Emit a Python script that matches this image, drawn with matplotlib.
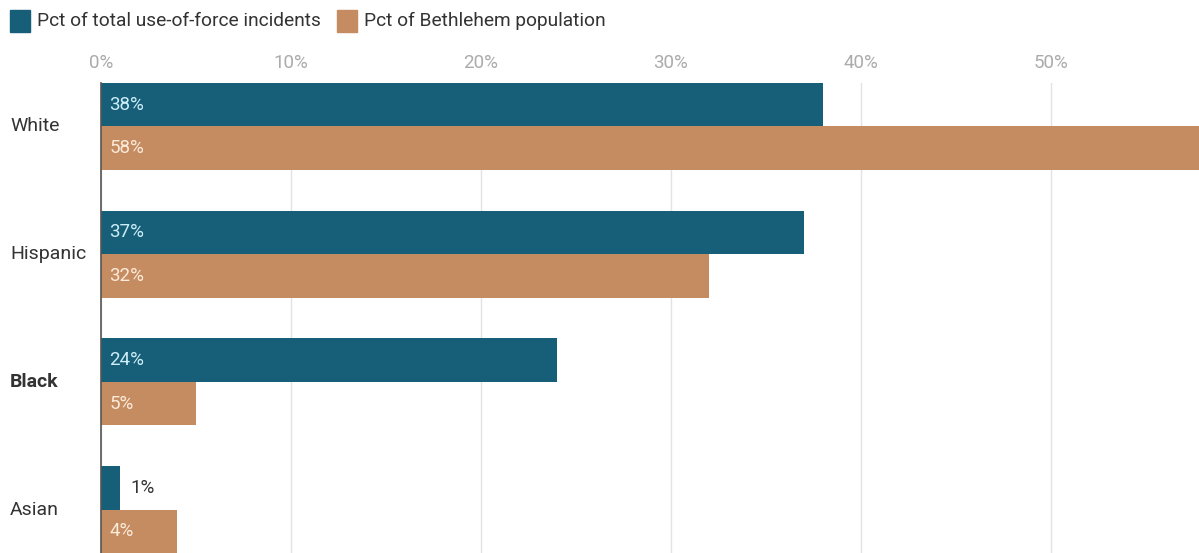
import matplotlib.pyplot as plt
import numpy as np

plt.rcParams['font.family'] = ['Roboto', 'DejaVu Sans']

groups = ["White", "Hispanic", "Black", "Asian"]
incidents = [38, 37, 24, 1]
population = [58, 32, 5, 4]
series_names = ["Pct of total use-of-force incidents", "Pct of Bethlehem population"]

blue = "#175f78"
orange = "#c58b61"

fig = plt.figure(figsize=(11.99, 5.53), dpi=100)
ax = fig.add_axes([101 / 1199, 0, 1 - 101 / 1199, 470 / 553])

y = np.arange(len(groups))
h = 0.34
ax.barh(y - h / 2, incidents, height=h, color=blue, zorder=3)
ax.barh(y + h / 2, population, height=h, color=orange, zorder=3)

ax.set_xlim(0, 57.8)
ax.set_ylim(3 + h, -h)

# value labels
for i, v in enumerate(incidents):
    if v >= 3:
        ax.text(0.45, y[i] - h / 2, f"{v}%", color="#cdeef7", fontsize=13.5,
                va="center", ha="left", zorder=4)
    else:
        ax.text(v + 0.55, y[i] - h / 2, f"{v}%", color="#333333", fontsize=13.5,
                va="center", ha="left", zorder=4)
for i, v in enumerate(population):
    ax.text(0.45, y[i] + h / 2, f"{v}%", color="#fcebd9", fontsize=13.5,
            va="center", ha="left", zorder=4)

ax.set_xticks(np.arange(0, 60, 10))
ax.set_xticklabels([f"{t}%" for t in range(0, 60, 10)])
ax.xaxis.tick_top()
ax.tick_params(axis="x", length=0, pad=8, labelsize=13.5, labelcolor="#ababab")
ax.set_yticks([])
ax.grid(axis="x", color="#e3e3e3", linewidth=1, zorder=0)

for s in ["top", "right", "bottom"]:
    ax.spines[s].set_visible(False)
ax.spines["left"].set_color("#555555")
ax.spines["left"].set_linewidth(1.2)
ax.spines["left"].set_zorder(5)

# category labels
for i, g in enumerate(groups):
    ax.text(-91 / 19, y[i], g, fontsize=14, color="#333333", va="center", ha="left",
            fontweight="bold" if g == "Black" else "normal")

# legend
fig.patches.append(plt.Rectangle((10 / 1199, 1 - 32 / 553), 20 / 1199, 22 / 553,
                                 transform=fig.transFigure, color=blue))
fig.text(37 / 1199, 1 - 21 / 553, series_names[0], fontsize=13.8, color="#333333", va="center")
fig.patches.append(plt.Rectangle((337 / 1199, 1 - 32 / 553), 20 / 1199, 22 / 553,
                                 transform=fig.transFigure, color=orange))
fig.text(364 / 1199, 1 - 21 / 553, series_names[1], fontsize=13.8, color="#333333", va="center")

fig.savefig("out.png", dpi=100)
